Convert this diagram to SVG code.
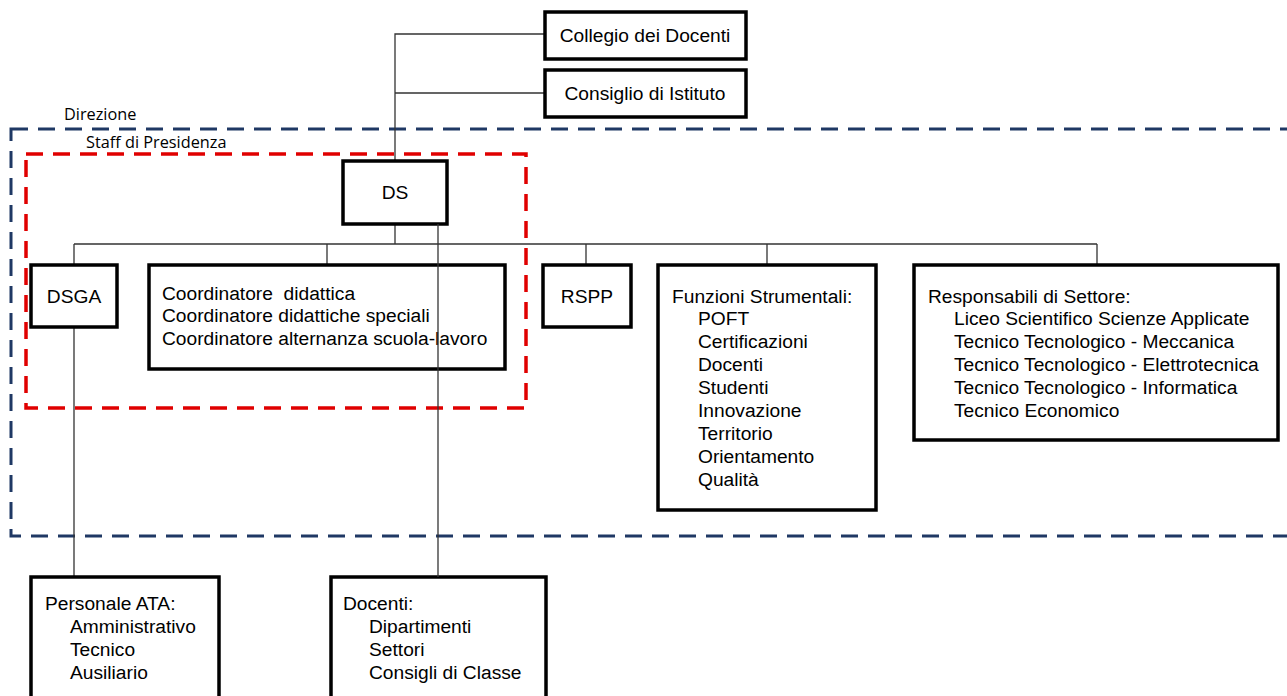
<svg xmlns="http://www.w3.org/2000/svg" width="1287" height="696" viewBox="0 0 1287 696">
<style>
.box{fill:#fff;stroke:#000;stroke-width:3.5}
.t{font-family:"Liberation Sans",Arial,sans-serif;font-size:19.2px;fill:#000;white-space:pre}
.c{text-anchor:middle}
.lbl{font-family:"Open Sans","Noto Sans",sans-serif;font-size:16.3px;fill:#000}
.con{fill:none;stroke:#333;stroke-width:1.3}
</style>
<rect width="1287" height="696" fill="#fff"/>
<g id="zones">
<rect x="11" y="129" width="1300" height="407" fill="none" stroke="#1f3864" stroke-width="3" stroke-dasharray="17 10"/>
<text class="lbl" x="64" y="120">Direzione</text>
<rect x="26" y="154" width="500" height="254" fill="none" stroke="#e00000" stroke-width="3.5" stroke-dasharray="17 10"/>
<text class="lbl" x="86" y="148">Staff di Presidenza</text>
</g>
<g id="connectors">
<path class="con" d="M545 34H395V161M545 93H395M395 224V244M74 244H1097M74 244V264M327 244V264M586 244V264M767 244V264M1097 244V264M74 327V577"/>
</g>
<g id="collegio"><rect class="box" x="545" y="12" width="201" height="47"/><text class="t c" x="645" y="42">Collegio dei Docenti</text></g>
<g id="consiglio"><rect class="box" x="545" y="70" width="201" height="47"/><text class="t c" x="645" y="100">Consiglio di Istituto</text></g>
<g id="ds"><rect class="box" x="343" y="161" width="104" height="63"/><text class="t c" x="395" y="199">DS</text></g>
<g id="dsga"><rect class="box" x="31" y="265" width="86" height="62"/><text class="t c" x="74" y="303">DSGA</text></g>
<g id="coordinatori"><rect class="box" x="149" y="265" width="356" height="104"/>
<text class="t" x="162" y="300" xml:space="preserve">Coordinatore  didattica</text>
<text class="t" x="162" y="322">Coordinatore didattiche speciali</text>
<text class="t" x="162" y="345">Coordinatore alternanza scuola-lavoro</text></g>
<g id="rspp"><rect class="box" x="543" y="265" width="88" height="62"/><text class="t c" x="587" y="303">RSPP</text></g>
<g id="funzioni"><rect class="box" x="658" y="265" width="218" height="245"/>
<text class="t" x="672" y="303">Funzioni Strumentali:</text>
<text class="t" x="698" y="325">POFT</text>
<text class="t" x="698" y="348">Certificazioni</text>
<text class="t" x="698" y="371">Docenti</text>
<text class="t" x="698" y="394">Studenti</text>
<text class="t" x="698" y="417">Innovazione</text>
<text class="t" x="698" y="440">Territorio</text>
<text class="t" x="698" y="463">Orientamento</text>
<text class="t" x="698" y="486">Qualità</text></g>
<g id="responsabili"><rect class="box" x="914" y="265" width="364" height="175"/>
<text class="t" x="928" y="303">Responsabili di Settore:</text>
<text class="t" x="954" y="325">Liceo Scientifico Scienze Applicate</text>
<text class="t" x="954" y="348">Tecnico Tecnologico - Meccanica</text>
<text class="t" x="954" y="371">Tecnico Tecnologico - Elettrotecnica</text>
<text class="t" x="954" y="394">Tecnico Tecnologico - Informatica</text>
<text class="t" x="954" y="417">Tecnico Economico</text></g>
<g id="ata"><rect class="box" x="31" y="577" width="188" height="140"/>
<text class="t" x="45" y="610">Personale ATA:</text>
<text class="t" x="70" y="633">Amministrativo</text>
<text class="t" x="70" y="656">Tecnico</text>
<text class="t" x="70" y="679">Ausiliario</text></g>
<g id="docenti"><rect class="box" x="331" y="577" width="215" height="140"/>
<text class="t" x="343" y="610">Docenti:</text>
<text class="t" x="369" y="633">Dipartimenti</text>
<text class="t" x="369" y="656">Settori</text>
<text class="t" x="369" y="679">Consigli di Classe</text></g>
<g id="connectors-over">
<path class="con" d="M438 224V577"/>
</g>
</svg>
